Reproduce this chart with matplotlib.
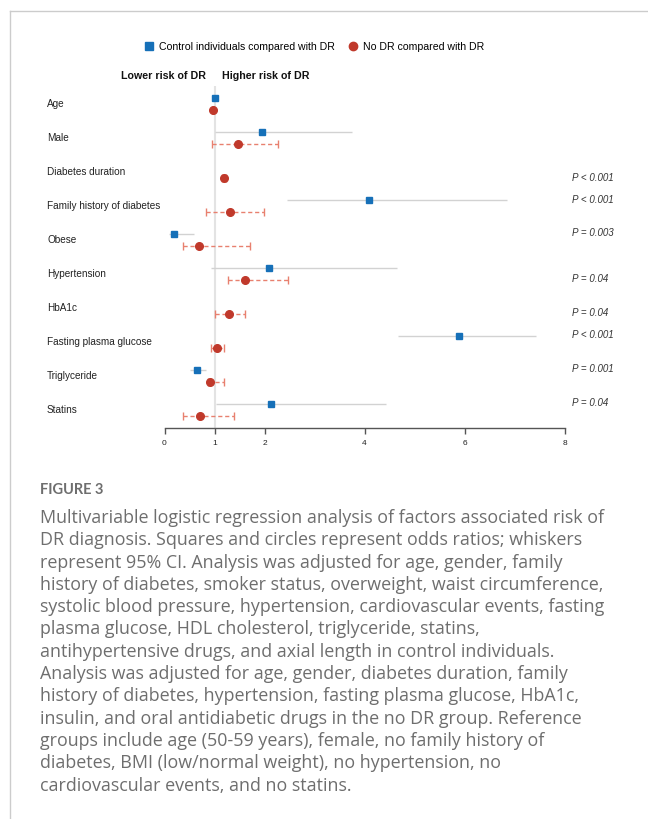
import matplotlib
matplotlib.use('Agg')
import matplotlib.pyplot as plt
from matplotlib.lines import Line2D
from matplotlib.transforms import blended_transform_factory

plt.rcParams['font.family'] = ['Liberation Sans', 'DejaVu Sans']

factors = ['Age', 'Male', 'Diabetes duration', 'Family history of diabetes', 'Obese',
           'Hypertension', 'HbA1c', 'Fasting plasma glucose', 'Triglyceride', 'Statins']

# control individuals compared with DR (None = not in the model)
ctrl_or = [1.01, 1.95, None, 4.09, 0.19, 2.08, None, 5.88, 0.64, 2.13]
ctrl_lo = [1.00, 1.00, None, 2.45, 0.08, 0.93, None, 4.66, 0.50, 1.03]
ctrl_hi = [1.02, 3.75, None, 6.85, 0.58, 4.65, None, 7.43, 0.83, 4.43]

# no DR compared with DR
nodr_or = [0.96, 1.47, 1.18, 1.30, 0.68, 1.61, 1.28, 1.04, 0.91, 0.71]
nodr_lo = [0.94, 0.94, 1.14, 0.83, 0.36, 1.27, 1.00, 0.92, 0.86, 0.36]
nodr_hi = [0.98, 2.26, 1.22, 1.98, 1.70, 2.46, 1.60, 1.19, 1.19, 1.39]

# significant p values: row, group, text
p_rows = [2, 3, 4, 5, 6, 7, 8, 9]
p_group = ['nodr', 'ctrl', 'ctrl', 'nodr', 'nodr', 'ctrl', 'ctrl', 'ctrl']
p_text = ['P < 0.001', 'P < 0.001', 'P = 0.003', 'P = 0.04', 'P = 0.04',
          'P < 0.001', 'P = 0.001', 'P = 0.04']

xticks = [0, 1, 2, 4, 6, 8]

caption_title = 'FIGURE 3'
caption_lines = [
    'Multivariable logistic regression analysis of factors associated risk of',
    'DR diagnosis. Squares and circles represent odds ratios; whiskers',
    'represent 95% CI. Analysis was adjusted for age, gender, family',
    'history of diabetes, smoker status, overweight, waist circumference,',
    'systolic blood pressure, hypertension, cardiovascular events, fasting',
    'plasma glucose, HDL cholesterol, triglyceride, statins,',
    'antihypertensive drugs, and axial length in control individuals.',
    'Analysis was adjusted for age, gender, diabetes duration, family',
    'history of diabetes, hypertension, fasting plasma glucose, HbA1c,',
    'insulin, and oral antidiabetic drugs in the no DR group. Reference',
    'groups include age (50-59 years), female, no family history of',
    'diabetes, BMI (low/normal weight), no hypertension, no',
    'cardiovascular events, and no statins.',
]

BLUE = '#1670b8'
RED = '#c0392b'
RED_CI = '#e8806f'
GREY_CI = '#d2d2d2'

W, H = 648, 819
fig = plt.figure(figsize=(W / 100, H / 100), dpi=100)

ax_top, ax_bot = 86, 427.5
row0, row_h = 104, 34
ax = fig.add_axes([164.5 / W, 1 - ax_bot / H, 400 / W, (ax_bot - ax_top) / H])
ax.set_xlim(0, 8)
ax.set_ylim((ax_bot - row0) / row_h, (ax_top - row0) / row_h)

dy_sq = -6.5 / row_h
dy_ci = 5.5 / row_h

ax.axvline(1, color='#e3e3e3', lw=1.5, zorder=0)

for i in range(len(factors)):
    if ctrl_or[i] is not None:
        y = i + dy_sq
        ax.hlines(y, ctrl_lo[i], ctrl_hi[i], color=GREY_CI, lw=1, zorder=1)
        ax.plot(ctrl_or[i], y, 's', color=BLUE, ms=5, zorder=3)
    y = i + dy_ci
    ax.hlines(y, nodr_lo[i], nodr_hi[i], color=RED_CI, lw=1, linestyles=(0, (3, 2)), zorder=1)
    ax.plot([nodr_lo[i], nodr_hi[i]], [y, y], '|', color=RED_CI, ms=6, mew=1, zorder=2)
    ax.plot(nodr_or[i], y, 'o', color=RED, ms=5.5, zorder=3)

for r, g, t in zip(p_rows, p_group, p_text):
    y = r + (dy_sq if g == 'ctrl' else dy_ci)
    ax.text(8.15, y, t, ha='left', va='center', fontsize=7, style='italic',
            color='#333333', clip_on=False)

for s in ['left', 'top', 'right']:
    ax.spines[s].set_visible(False)
ax.spines['bottom'].set_color('#555555')
ax.spines['bottom'].set_linewidth(1)
ax.set_yticks([])
ax.set_xticks(xticks)
ax.tick_params(axis='x', length=4, width=1, color='#555555', labelsize=6,
               labelcolor='#222222', pad=5)
ax.patch.set_visible(False)

trans = blended_transform_factory(fig.transFigure, ax.transData)
for i, name in enumerate(factors):
    ax.text(47 / W, i, name, transform=trans, ha='left', va='center',
            fontsize=7.2, color='#222222', clip_on=False)

fig.text(206 / W, 1 - 76 / H, 'Lower risk of DR', ha='right', va='center',
         fontsize=7.7, weight='bold', color='#111111')
fig.text(222 / W, 1 - 76 / H, 'Higher risk of DR', ha='left', va='center',
         fontsize=7.7, weight='bold', color='#111111')

handles = [Line2D([], [], ls='none', marker='s', color=BLUE, ms=5.5),
           Line2D([], [], ls='none', marker='o', color=RED, ms=6)]
fig.legend(handles, ['Control individuals compared with DR', 'No DR compared with DR'],
           loc='center', bbox_to_anchor=(314 / W, 1 - 47 / H), ncol=2, frameon=False,
           fontsize=7.6, handlelength=1, handletextpad=0.5, columnspacing=1.2)

# frame lines of the page
fig.add_artist(Line2D([10 / W, 10 / W], [0, 1 - 11 / H], transform=fig.transFigure,
                      color='#cccccc', lw=1))
fig.add_artist(Line2D([10 / W, 1], [1 - 11 / H, 1 - 11 / H], transform=fig.transFigure,
                      color='#cccccc', lw=1))

cap_color = '#6e6e6e'
fig.text(40 / W, 1 - 490 / H, caption_title, ha='left', va='center', fontsize=10.5,
         weight='bold', color=cap_color, family='Lato')
for k, line in enumerate(caption_lines):
    fig.text(40 / W, 1 - (518 + 22.3 * k) / H, line, ha='left', va='center',
             fontsize=12.9, color=cap_color, family='Open Sans')

fig.savefig('out.png', dpi=100)
